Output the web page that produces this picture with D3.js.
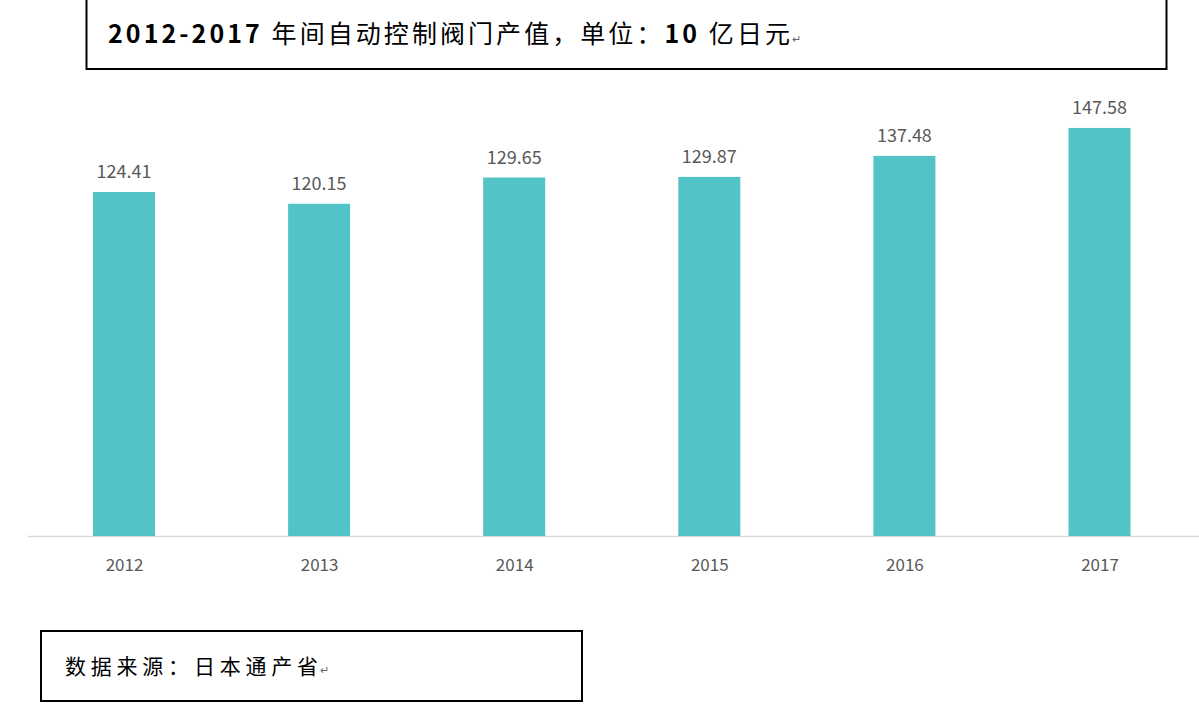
<!DOCTYPE html>
<html><head><meta charset="utf-8">
<script src="https://cdn.jsdelivr.net/npm/d3@7"></script>
<style>body{margin:0;background:#fff}svg{display:block}</style>
</head><body>
<script>
const categories = ["2012","2013","2014","2015","2016","2017"];
const values = [124.41,120.15,129.65,129.87,137.48,147.58];
const titleParts = [["2012-2017 ","bold"],["年间自动控制阀门产值，单位：","normal"],["10 ","bold"],["亿日元","normal"]];
const source = "数据来源：日本通产省";

const W=1199,H=713;
const svg=d3.select("body").append("svg").attr("width",W).attr("height",H);
const font="'Noto Sans CJK SC','Noto Sans',sans-serif";

svg.append("rect").attr("x",86.5).attr("y",-2).attr("width",1080).attr("height",71)
  .attr("fill","none").attr("stroke","#000").attr("stroke-width",2);
const t=svg.append("text").attr("x",108).attr("y",43).attr("font-family",font)
  .attr("font-size",25).attr("fill","#000")
  .attr("textLength",682).attr("lengthAdjust","spacing");
titleParts.forEach(p=>t.append("tspan").attr("font-weight",p[1]).text(p[0]));
svg.append("text").attr("x",792).attr("y",43).attr("font-size",11).attr("fill","#666").text("↵");

const x=d3.scalePoint().domain(categories).range([124,1099.5]);
const y=d3.scaleLinear().domain([0,150]).range([536,536-150*2.765]);
const bw=62;

svg.append("line").attr("x1",28).attr("x2",1199).attr("y1",536.5).attr("y2",536.5)
  .attr("stroke","#d9d9d9").attr("stroke-width",1.5);

svg.selectAll("rect.bar").data(values).join("rect").attr("class","bar")
  .attr("x",(d,i)=>x(categories[i])-bw/2).attr("width",bw)
  .attr("y",d=>y(d)).attr("height",d=>y(0)-y(d)).attr("fill","#52c3c6");

svg.selectAll("text.val").data(values).join("text").attr("class","val")
  .attr("x",(d,i)=>x(categories[i])).attr("y",d=>y(d)-14)
  .attr("text-anchor","middle").attr("font-family",font).attr("font-size",18)
  .attr("fill","#595959").text(d=>d.toFixed(2));

const ax=svg.append("g").attr("transform","translate(0,536)")
  .call(d3.axisBottom(x).tickSize(0).tickPadding(23));
ax.select(".domain").remove();
ax.selectAll("text").attr("font-family",font).attr("font-size",17).attr("fill","#595959");

svg.append("rect").attr("x",41).attr("y",631).attr("width",541).attr("height",70)
  .attr("fill","none").attr("stroke","#000").attr("stroke-width",2);
svg.append("text").attr("x",65).attr("y",674).attr("font-family",font)
  .attr("font-size",21).attr("fill","#000")
  .attr("textLength",253).attr("lengthAdjust","spacing").text(source);
svg.append("text").attr("x",320).attr("y",674).attr("font-size",11).attr("fill","#666").text("↵");
</script>
</body></html>
